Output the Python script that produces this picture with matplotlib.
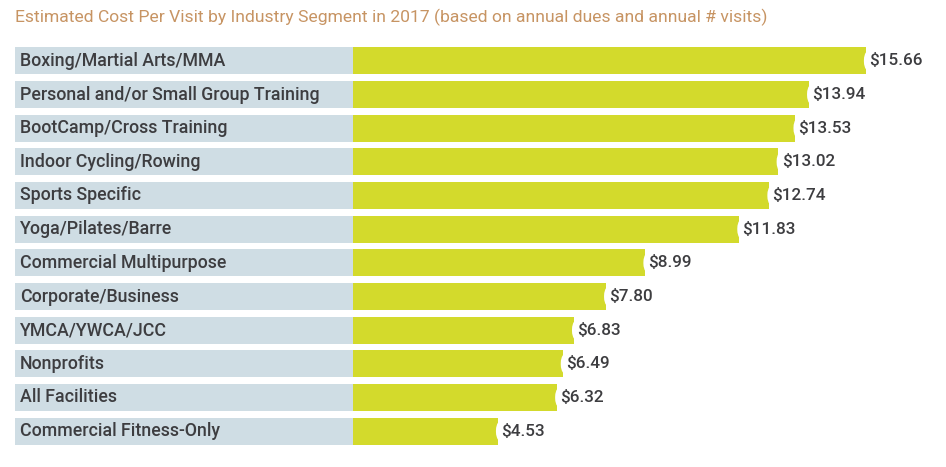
import matplotlib
matplotlib.use("Agg")
import matplotlib.pyplot as plt

segments = [
    "Boxing/Martial Arts/MMA",
    "Personal and/or Small Group Training",
    "BootCamp/Cross Training",
    "Indoor Cycling/Rowing",
    "Sports Specific",
    "Yoga/Pilates/Barre",
    "Commercial Multipurpose",
    "Corporate/Business",
    "YMCA/YWCA/JCC",
    "Nonprofits",
    "All Facilities",
    "Commercial Fitness-Only",
]
cost_per_visit = [15.66, 13.94, 13.53, 13.02, 12.74, 11.83, 8.99, 7.80, 6.83, 6.49, 6.32, 4.53]

TITLE = "Estimated Cost Per Visit by Industry Segment in 2017 (based on annual dues and annual # visits)"
BAR_COLOR = "#d3da2c"
LABEL_BG = "#cfdde4"
TEXT_COLOR = "#3d3d40"
TITLE_COLOR = "#c79463"

plt.rcParams["font.family"] = ["Roboto", "DejaVu Sans"]

W, H = 946, 467
fig = plt.figure(figsize=(W / 100, H / 100), dpi=100)

# pixel geometry of the plot region
px_left, px_right = 15, 940
px_top, px_bottom = 44, 448
px_zero, px_per_dollar = 348, 33.06
ax = fig.add_axes([px_left / W, 1 - px_bottom / H,
                   (px_right - px_left) / W, (px_bottom - px_top) / H])
x_min = (px_left - px_zero) / px_per_dollar
x_max = (px_right - px_zero) / px_per_dollar
label_end = (353 - px_zero) / px_per_dollar

ys = range(len(segments))
ax.barh(ys, cost_per_visit, height=0.8, color=BAR_COLOR, zorder=2)
ax.barh(ys, label_end - x_min, left=x_min, height=0.8, color=LABEL_BG, zorder=3)

for y, name, v in zip(ys, segments, cost_per_visit):
    ax.text(x_min + 0.15, y, name, va="center", ha="left", fontsize=12.8,
            fontweight="medium", color=TEXT_COLOR, zorder=4)
    ax.text(v + 0.1, y, f"${v:.2f}", va="center", ha="left", fontsize=12.3,
            fontweight="medium", color=TEXT_COLOR, zorder=4,
            bbox=dict(boxstyle="round,pad=0.3,rounding_size=0.7",
                      facecolor="white", edgecolor="none"))

ax.set_xlim(x_min, x_max)
ax.set_ylim(len(segments) - 0.5, -0.5)
ax.axis("off")

fig.text(px_left / W, 1 - 17 / H, TITLE, ha="left", va="center",
         fontsize=12.6, color=TITLE_COLOR)

fig.savefig("out.png", dpi=100)
